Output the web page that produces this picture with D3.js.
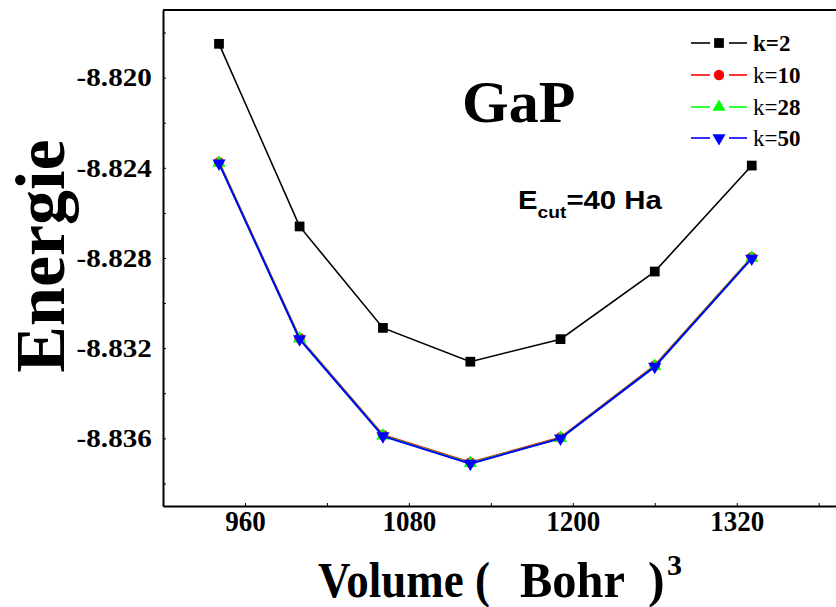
<!DOCTYPE html>
<html>
<head>
<meta charset="utf-8">
<script src="https://cdn.jsdelivr.net/npm/d3@7"></script>
<style>
  html, body { margin: 0; padding: 0; background: #fff; }
  svg { display: block; }
</style>
</head>
<body>
<svg id="chart" width="836" height="607"></svg>
<script>
// Cell volumes (Bohr^3) and total energies for each k-point sampling
const volumes = [941, 1000, 1061, 1125, 1191, 1260, 1331];
const energyK2  = [-8.8185, -8.8266, -8.8311, -8.8326, -8.8316, -8.8286, -8.8239];
const energyK10 = [-8.82375, -8.83155, -8.83585, -8.83707, -8.83596, -8.83277, -8.82797];
const energyK28 = [-8.82378, -8.83158, -8.83588, -8.83710, -8.83599, -8.83280, -8.82800];
const energyK50 = [-8.82380, -8.83160, -8.83590, -8.83712, -8.83600, -8.83282, -8.82802];

const seriesNames  = ["k=2", "k=10", "k=28", "k=50"];
const seriesColors = ["#000000", "#ff0000", "#00ff00", "#0000ff"];
const seriesShapes = ["square", "circle", "triangleUp", "triangleDown"];

const xTicks = [960, 1080, 1200, 1320];
const xMinorTicks = [1020, 1140, 1260, 1380];
const yTicks = [-8.820, -8.824, -8.828, -8.832, -8.836];
const yMinorTicks = [-8.818, -8.822, -8.826, -8.830, -8.834, -8.838];

const series = [energyK2, energyK10, energyK28, energyK50].map((vals, i) => ({
  name: seriesNames[i],
  color: seriesColors[i],
  shape: seriesShapes[i],
  points: volumes.map((v, j) => ({ x: v, y: vals[j] }))
}));

const svg = d3.select("#chart");
const plotLeft = 163, plotTop = 10, plotBottom = 506, plotRight = 846;

const x = d3.scaleLinear().domain([900, 1400]).range([plotLeft, plotRight]);
const y = d3.scaleLinear().domain([-8.839, -8.817]).range([plotBottom, plotTop]);

const serif = "'Liberation Serif', 'Times New Roman', serif";
const sans = "'Liberation Sans', Arial, sans-serif";

// Axes: inward ticks, bold serif labels
const yAxis = d3.axisLeft(y)
  .tickValues(yTicks.concat(yMinorTicks))
  .tickFormat(d => yTicks.some(t => Math.abs(t - d) < 1e-9) ? d3.format(".3f")(d).replace("−", "-") : "")
  .tickSize(-3).tickSizeOuter(0).tickPadding(10);
const gy = svg.append("g").attr("transform", `translate(${plotLeft},0)`).call(yAxis);

const xAxis = d3.axisBottom(x)
  .tickValues(xTicks.concat(xMinorTicks))
  .tickFormat(d => xTicks.includes(d) ? String(d) : "")
  .tickSize(-3).tickSizeOuter(0).tickPadding(4);
const gx = svg.append("g").attr("transform", `translate(0,${plotBottom})`).call(xAxis);

[gx, gy].forEach(g => {
  g.select(".domain").attr("stroke", "#000").attr("stroke-width", 2);
  g.selectAll(".tick line").attr("stroke", "#000").attr("stroke-width", 1);
  g.selectAll(".tick text")
    .attr("fill", "#000")
    .style("font-family", serif)
    .style("font-weight", "bold");
});
gy.selectAll(".tick text").style("font-size", "26px").attr("transform", "scale(1.12,1)");
gx.selectAll(".tick text").style("font-size", "30px").attr("transform", "scale(0.9,1)");

// top frame line
svg.append("line")
  .attr("x1", plotLeft).attr("x2", plotRight)
  .attr("y1", plotTop).attr("y2", plotTop)
  .attr("stroke", "#000").attr("stroke-width", 2);

// marker symbols
function symbolFor(shape, size) {
  if (shape === "square") return d3.symbol(d3.symbolSquare, size)();
  if (shape === "circle") return d3.symbol(d3.symbolCircle, size)();
  return d3.symbol(d3.symbolTriangle, size)();
}
const markerSize = { square: 95, circle: 85, triangleUp: 75, triangleDown: 75 };

const line = d3.line().x(d => x(d.x)).y(d => y(d.y));

series.forEach(s => {
  const g = svg.append("g");
  g.append("path")
    .datum(s.points)
    .attr("d", line)
    .attr("fill", "none")
    .attr("stroke", s.color)
    .attr("stroke-width", s.shape === "square" ? 1.6 : 2);
  g.selectAll("path.mark")
    .data(s.points)
    .join("path")
    .attr("class", "mark")
    .attr("d", symbolFor(s.shape, markerSize[s.shape]))
    .attr("transform", d => `translate(${x(d.x)},${y(d.y)})` + (s.shape === "triangleDown" ? " rotate(180)" : ""))
    .attr("fill", s.color);
});

// legend
const legendRows = [43, 75, 107, 138];
series.forEach((s, i) => {
  const ly = legendRows[i];
  const g = svg.append("g").attr("transform", `translate(0,${ly})`);
  g.append("line").attr("x1", 691).attr("x2", 710).attr("y1", 0).attr("y2", 0)
    .attr("stroke", s.color).attr("stroke-width", 1.6);
  g.append("line").attr("x1", 729).attr("x2", 747).attr("y1", 0).attr("y2", 0)
    .attr("stroke", s.color).attr("stroke-width", 1.6);
  g.append("path")
    .attr("d", symbolFor(s.shape, markerSize[s.shape]))
    .attr("transform", `translate(719,0)` + (s.shape === "triangleDown" ? " rotate(180)" : ""))
    .attr("fill", s.color);
  const t = g.append("text")
    .attr("x", 753).attr("y", 8)
    .style("font-family", serif)
    .style("font-size", "23px")
    .attr("fill", "#000");
  const m = s.name.match(/^(k=)(\d+)$/);
  t.append("tspan").text(m[1]).style("font-weight", i === 0 ? "bold" : "normal");
  t.append("tspan").text(m[2]).style("font-weight", "bold");
});

// title and annotation
svg.append("text")
  .attr("x", 462).attr("y", 122)
  .style("font-family", serif).style("font-weight", "bold").style("font-size", "60px")
  .text("GaP");

const ecut = svg.append("text")
  .attr("transform", "translate(518,209) scale(1.13,1)")
  .style("font-family", sans).style("font-weight", "bold").style("font-size", "26px");
ecut.append("tspan").text("E");
ecut.append("tspan").attr("dy", 9).style("font-size", "17px").text("cut");
ecut.append("tspan").attr("dy", -9).text("=40 Ha");

// axis titles
svg.append("text")
  .attr("transform", "translate(64,256) rotate(-90)")
  .attr("text-anchor", "middle")
  .style("font-family", serif).style("font-weight", "bold").style("font-size", "70px")
  .text("Energie");

const titleFont = { "font-family": serif, "font-weight": "bold", "font-size": "50px" };
function titlePart(str, xPos, len) {
  const t = svg.append("text").attr("x", xPos).attr("y", 597).text(str);
  Object.entries(titleFont).forEach(([k, v]) => t.style(k, v));
  if (len) t.attr("textLength", len).attr("lengthAdjust", "spacingAndGlyphs");
  return t;
}
titlePart("Volume (", 318, 172);
titlePart("Bohr", 520, 105);
titlePart(")", 648, null);
titlePart("3", 667, null).style("font-size", "30px").attr("y", 575);
</script>
</body>
</html>
